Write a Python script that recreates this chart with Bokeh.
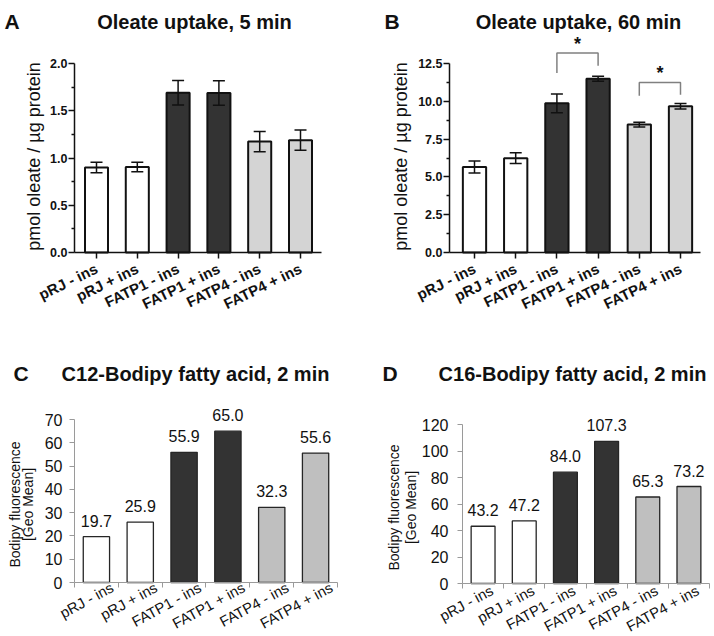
import math
from bokeh.plotting import figure
from bokeh.models import (Range1d, FixedTicker, Label, LabelSet, ColumnDataSource,
                          Whisker, TeeHead, PrintfTickFormatter, CustomJSTickFormatter)
from bokeh.layouts import row, column
from bokeh.embed import file_html
from bokeh.resources import INLINE
from bokeh.core.properties import value

# ---------------- data ----------------
categories = ["pRJ - ins", "pRJ + ins", "FATP1 - ins", "FATP1 + ins", "FATP4 - ins", "FATP4 + ins"]
positions = [1, 2, 3, 4, 5, 6]

oleate_5min = [0.90, 0.905, 1.69, 1.687, 1.174, 1.188]
oleate_5min_err = [0.055, 0.05, 0.13, 0.13, 0.107, 0.107]

oleate_60min = [5.65, 6.24, 9.87, 11.49, 8.46, 9.67]
oleate_60min_err = [0.40, 0.36, 0.62, 0.17, 0.16, 0.18]

# significance brackets in panel B (category positions and heights in data units)
sig_left = [3, 5]
sig_right = [4, 6]
sig_top = [13.2, 11.25]
sig_left_end = [11.87, 10.37]
sig_right_end = [12.35, 10.44]
sig_text = ["*", "*"]

c12_bodipy = [19.7, 25.9, 55.9, 65.0, 32.3, 55.6]
c16_bodipy = [43.2, 47.2, 84.0, 107.3, 65.3, 73.2]

ticks_a = [0, 0.5, 1.0, 1.5, 2.0]
minor_a = [0.25, 0.75, 1.25, 1.75]
ticks_b = [0, 2.5, 5.0, 7.5, 10.0, 12.5]
minor_b = [1.25, 3.75, 6.25, 8.75, 11.25]
ticks_c = [0, 10, 20, 30, 40, 50, 60, 70]
ticks_d = [0, 20, 40, 60, 80, 100, 120]

colors_ab = ["#ffffff", "#ffffff", "#333333", "#333333", "#d4d4d4", "#d4d4d4"]
colors_cd = ["#ffffff", "#ffffff", "#333333", "#333333", "#bfbfbf", "#bfbfbf"]

FONT = "Liberation Sans"
W, H = 357, 318
INK = "#111111"


class Geom:
    """Maps figure-local pixels (top-left origin) to data units."""
    def __init__(self, x_ref, x_ref_px, x_ppu, y_zero_px, y_ppu):
        self.xppu, self.yppu = x_ppu, y_ppu
        self.x0 = x_ref - x_ref_px / x_ppu
        self.x1 = self.x0 + W / x_ppu
        self.y1 = y_zero_px / y_ppu
        self.y0 = self.y1 - H / y_ppu

    def x(self, lx):
        return self.x0 + lx / self.xppu

    def y(self, ly):
        return self.y1 - ly / self.yppu


def base_fig(g):
    p = figure(width=W, height=H, x_range=Range1d(g.x0, g.x1), y_range=Range1d(g.y0, g.y1),
               output_backend="svg", toolbar_location=None, title=None,
               min_border_left=0, min_border_right=0, min_border_top=0, min_border_bottom=0)
    p.xgrid.visible = False
    p.ygrid.visible = False
    p.outline_line_color = None
    p.background_fill_color = "white"
    p.border_fill_color = "white"
    p.xaxis.formatter = CustomJSTickFormatter(code="return ''")
    p.xaxis.minor_tick_line_color = None
    p.xaxis.major_label_standoff = 0
    p.xaxis.fixed_location = 0
    return p


def add_text(p, g, lx, ly, text, size, bold=False, align="center",
             baseline="alphabetic", angle=0):
    p.add_layout(Label(x=g.x(lx), y=g.y(ly), text=text, text_font=FONT,
                       text_font_size=f"{size}px",
                       text_font_style="bold" if bold else "normal",
                       text_align=align, text_baseline=baseline,
                       angle=angle, angle_units="deg", text_color=INK))


def oleate_panel(g, axis_lx, axis_rx, vals, errs, ticks, minor, axis_top,
                 title, title_lx, letter, letter_lx, ylabel_lx):
    p = base_fig(g)
    src = ColumnDataSource(dict(
        x=positions, top=vals,
        upper=[v + e for v, e in zip(vals, errs)],
        lower=[v - e for v, e in zip(vals, errs)],
        color=colors_ab))
    p.vbar(x="x", top="top", bottom=0, width=0.565, source=src,
           fill_color="color", line_color=INK, line_width=2)
    p.add_layout(Whisker(source=src, base="x", upper="upper", lower="lower",
                         line_color=INK, line_width=1.5, level="overlay",
                         upper_head=TeeHead(size=12, line_color=INK, line_width=1.5),
                         lower_head=TeeHead(size=12, line_color=INK, line_width=1.5)))
    for ax in (p.xaxis[0], p.yaxis[0]):
        ax.axis_line_color = INK
        ax.axis_line_width = 1.5
        ax.major_tick_line_color = INK
        ax.major_tick_line_width = 1.5
        ax.major_tick_out = 6
        ax.major_tick_in = 0
    p.yaxis.fixed_location = g.x(axis_lx)
    p.yaxis.ticker = FixedTicker(ticks=ticks, minor_ticks=minor)
    p.yaxis.formatter = PrintfTickFormatter(format="%.1f")
    p.yaxis.bounds = (0, axis_top)
    p.yaxis.minor_tick_out = 3
    p.yaxis.minor_tick_in = 0
    p.yaxis.minor_tick_line_color = INK
    p.yaxis.minor_tick_line_width = 1.5
    p.yaxis.major_label_text_font = FONT
    p.yaxis.major_label_text_font_size = "12.5px"
    p.yaxis.major_label_text_font_style = "bold"
    p.yaxis.major_label_text_color = INK
    p.yaxis.major_label_standoff = 1
    # category tick labels drawn by the x axis itself, rotated
    p.xaxis.ticker = FixedTicker(ticks=positions)
    p.xaxis.bounds = (g.x(axis_lx), g.x(axis_rx))
    p.xaxis.major_label_overrides = {x: c for x, c in zip(positions, categories)}
    p.xaxis.major_label_orientation = math.radians(26)
    p.xaxis.major_label_standoff = 9
    p.xaxis.major_label_text_font = FONT
    p.xaxis.major_label_text_font_size = "15px"
    p.xaxis.major_label_text_font_style = "bold"
    p.xaxis.major_label_text_color = INK
    add_text(p, g, title_lx, 21, title, 20, bold=True)
    add_text(p, g, letter_lx, 21, letter, 21, bold=True, align="left")
    add_text(p, g, ylabel_lx, 156, "pmol oleate / µg protein", 18,
             baseline="middle", angle=90)
    return p


def bodipy_panel(g, vals, ticks, bar_width, title, title_lx, letter,
                 letter_lx, ylab1_lx, ylab2_lx, ylab_ly, xlab_dx, xlab_dy,
                 ytick_standoff):
    p = base_fig(g)
    src = ColumnDataSource(dict(
        x=positions, top=vals, color=colors_cd, label=categories,
        val=[f"{v:.1f}" for v in vals], zero=[0] * len(vals)))
    p.vbar(x="x", top="top", bottom=0, width=bar_width, source=src,
           fill_color="color", line_color="#262626", line_width=1.3)
    for ax in (p.xaxis[0], p.yaxis[0]):
        ax.axis_line_color = "#9a9a9a"
        ax.axis_line_width = 1
        ax.major_tick_line_color = "#9a9a9a"
        ax.major_tick_line_width = 1
        ax.major_tick_out = 5
        ax.major_tick_in = 0
        ax.minor_tick_line_color = None
    edges = [x - 0.5 for x in positions] + [positions[-1] + 0.5]
    p.yaxis.fixed_location = edges[0]
    p.yaxis.bounds = (0, ticks[-1])
    p.yaxis.ticker = FixedTicker(ticks=ticks)
    p.yaxis.major_label_text_font = FONT
    p.yaxis.major_label_text_font_size = "16px"
    p.yaxis.major_label_text_color = INK
    p.yaxis.major_label_standoff = ytick_standoff
    p.xaxis.ticker = FixedTicker(ticks=edges)
    p.xaxis.bounds = (edges[0], edges[-1])
    p.add_layout(LabelSet(x="x", y="top", text="val", source=src,
                          y_offset=10, text_align="center", text_baseline="alphabetic",
                          text_font=value(FONT), text_font_size="16px", text_color=INK))
    p.add_layout(LabelSet(x="x", y="zero", text="label", source=src,
                          angle=28.5, angle_units="deg", text_align="right",
                          text_baseline="middle", x_offset=xlab_dx, y_offset=xlab_dy,
                          text_font=value(FONT), text_font_size="14.8px", text_color=INK))
    add_text(p, g, title_lx, 55, title, 20, bold=True)
    add_text(p, g, letter_lx, 55, letter, 21, bold=True, align="left")
    add_text(p, g, ylab1_lx, ylab_ly, "Bodipy fluorescence", 14,
             baseline="middle", angle=90)
    add_text(p, g, ylab2_lx, ylab_ly, "[Geo Mean]", 14,
             baseline="middle", angle=90)
    return p


# ---------------- panel A ----------------
gA = Geom(x_ref=1, x_ref_px=96, x_ppu=40.8, y_zero_px=252, y_ppu=94.5)
pA = oleate_panel(gA, 74, 321, oleate_5min, oleate_5min_err, ticks_a, minor_a, 2.0,
                  "Oleate uptake, 5 min", 194, "A", 4, 33)

# ---------------- panel B ----------------
gB = Geom(x_ref=1, x_ref_px=117, x_ppu=41.2, y_zero_px=252, y_ppu=15.12)
pB = oleate_panel(gB, 92, 343, oleate_60min, oleate_60min_err, ticks_b, minor_b, 12.5,
                  "Oleate uptake, 60 min", 221, "B", 27, 43)
pB.multi_line(xs=[[l, l, r, r] for l, r in zip(sig_left, sig_right)],
              ys=[[a, t, t, b] for a, t, b in zip(sig_left_end, sig_top, sig_right_end)],
              line_color="#808080", line_width=1.5)
sig_src = ColumnDataSource(dict(x=[(l + r) / 2 for l, r in zip(sig_left, sig_right)],
                                y=sig_top, t=sig_text))
pB.add_layout(LabelSet(x="x", y="y", text="t", source=sig_src, y_offset=3,
                       text_align="center", text_baseline="alphabetic",
                       text_font=value(FONT), text_font_size="18px",
                       text_font_style="bold", text_color=INK))

# ---------------- panel C ----------------
gC = Geom(x_ref=0.5, x_ref_px=74, x_ppu=43.83, y_zero_px=264, y_ppu=163 / 70)
pC = bodipy_panel(gC, c12_bodipy, ticks_c, 0.6, "C12-Bodipy fatty acid, 2 min", 195,
                  "C", 13, 14, 27.5, 186, 16, -4, 7)

# ---------------- panel D ----------------
gD = Geom(x_ref=0.5, x_ref_px=105, x_ppu=41.17, y_zero_px=265, y_ppu=159 / 120)
pD = bodipy_panel(gD, c16_bodipy, ticks_d, 0.58, "C16-Bodipy fatty acid, 2 min", 215,
                  "D", 25, 36, 53.5, 189, 9, -6, 9)

layout = column(row(pA, pB), row(pC, pD))
open("out.html", "w").write(file_html(layout, INLINE))
